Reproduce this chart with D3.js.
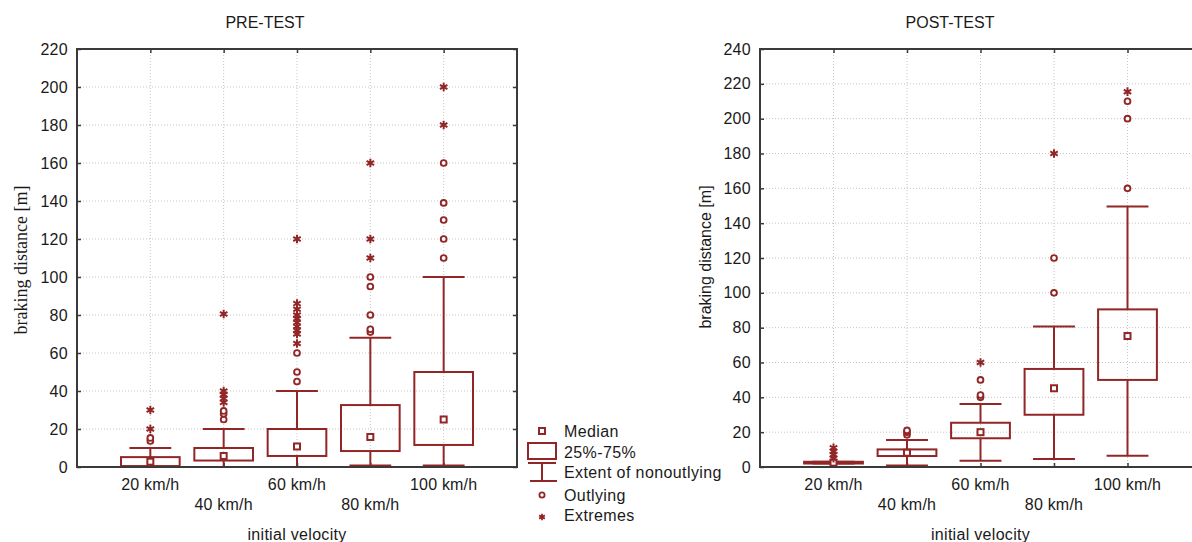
<!DOCTYPE html>
<html>
<head>
<meta charset="utf-8">
<script src="https://cdn.jsdelivr.net/npm/d3@7"></script>
<style>
  html, body { margin: 0; padding: 0; background: #fff; overflow: hidden; }
  svg { display: block; }
  text { font-family: "Liberation Sans", Arial, sans-serif; fill: #1a1a1a; }
</style>
</head>
<body>
<svg id="chart" width="1192" height="542"></svg>
<script>
// ---------- data ----------
const categories = ["20 km/h", "40 km/h", "60 km/h", "80 km/h", "100 km/h"];

// PRE-TEST
const preMedian = [2.8, 5.8, 10.8, 15.8, 25];
const preQ1 = [0.5, 3.4, 5.8, 8.4, 11.6];
const preQ3 = [5.2, 10, 20, 32.6, 50];
const preLow = [0, 0, 0, 0.8, 0.8];
const preHigh = [10, 20, 40, 68, 100];
const preOutlying = [[13.7, 15.3], [25, 28, 29.5], [45, 50, 60], [71, 72.5, 80, 95, 100], [110, 120, 130, 139, 160]];
const preExtremes = [[20, 30], [34, 36, 38, 40, 80.5], [65, 70, 72, 74, 76, 78, 80, 83, 86, 120], [110, 120, 160], [180, 200]];
const preTicks = [0, 20, 40, 60, 80, 100, 120, 140, 160, 180, 200, 220];

// POST-TEST
const postMedian = [2.5, 8.2, 20, 45.2, 75.2];
const postQ1 = [2, 6.3, 16.5, 30, 50];
const postQ3 = [3, 10.1, 25.4, 56.3, 90.5];
const postLow = [2, 0.8, 3.6, 4.6, 6.5];
const postHigh = [3, 15.5, 36.2, 80.6, 149.5];
const postOutlying = [[], [18.5, 20, 21], [40, 41.3, 50], [100, 120], [160, 200, 210]];
const postExtremes = [[5, 7, 9, 11], [], [60], [180], [215.5]];
const postTicks = [0, 20, 40, 60, 80, 100, 120, 140, 160, 180, 200, 220, 240];

const legendLabels = ["Median", "25%-75%", "Extent of nonoutlying", "Outlying", "Extremes"];

// ---------- style ----------
const RED = "#922626";
const FRAME = "#3a3a3a";
const GRID = "#c4c4c4";

const svg = d3.select("#chart");

function drawPanel(cfg) {
  const g = svg.append("g");
  const x = d3.scalePoint().domain(categories).range([cfg.left, cfg.right]).padding(1);
  const y = d3.scaleLinear().domain([0, cfg.max]).range([cfg.bottom, cfg.top]);
  const step = x.step();
  const boxW = step * 0.8;
  const capW = step * 0.57;

  // grid
  g.append("g").selectAll("line").data(cfg.ticks.filter(t => t > 0 && t < cfg.max)).join("line")
    .attr("x1", cfg.left).attr("x2", cfg.right)
    .attr("y1", d => y(d)).attr("y2", d => y(d))
    .attr("stroke", GRID).attr("stroke-width", 1).attr("stroke-dasharray", "1,2");
  g.append("g").selectAll("line").data(categories).join("line")
    .attr("x1", d => x(d)).attr("x2", d => x(d))
    .attr("y1", cfg.top).attr("y2", cfg.bottom)
    .attr("stroke", GRID).attr("stroke-width", 1).attr("stroke-dasharray", "1,2");

  // y axis (left) with inward ticks
  const yAxisL = d3.axisLeft(y).tickValues(cfg.ticks).tickSize(-4).tickPadding(9).tickFormat(d3.format("d"));
  const ga = g.append("g").attr("transform", `translate(${cfg.left},0)`).call(yAxisL);
  ga.select(".domain").remove();
  ga.selectAll(".tick line").attr("stroke", FRAME).attr("stroke-width", 1.5);
  ga.selectAll(".tick text").style("font-size", "16px").style("font-family", "Liberation Sans, Arial, sans-serif")
    .style("letter-spacing", "0.3px").attr("fill", "#1a1a1a");

  const yAxisR = d3.axisRight(y).tickValues(cfg.ticks).tickSize(-4).tickFormat("");
  const gr = g.append("g").attr("transform", `translate(${cfg.right},0)`).call(yAxisR);
  gr.select(".domain").remove();
  gr.selectAll(".tick line").attr("stroke", FRAME).attr("stroke-width", 1.5);

  // x axis ticks (bottom inward, top inward)
  const xAxisB = d3.axisBottom(x).tickSize(-4).tickFormat("");
  const gb = g.append("g").attr("transform", `translate(0,${cfg.bottom})`).call(xAxisB);
  gb.select(".domain").remove();
  gb.selectAll(".tick line").attr("stroke", FRAME).attr("stroke-width", 1.5);
  const xAxisT = d3.axisTop(x).tickSize(-4).tickFormat("");
  const gt = g.append("g").attr("transform", `translate(0,${cfg.top})`).call(xAxisT);
  gt.select(".domain").remove();
  gt.selectAll(".tick line").attr("stroke", FRAME).attr("stroke-width", 1.5);

  // category labels (staggered)
  g.append("g").selectAll("text").data(categories).join("text")
    .attr("x", d => x(d))
    .attr("y", (d, i) => i % 2 === 0 ? cfg.bottom + 23 : cfg.bottom + 43)
    .attr("text-anchor", "middle")
    .style("font-size", "16px")
    .style("letter-spacing", "0.2px")
    .text(d => d);

  // boxes
  const data = categories.map((c, i) => ({
    c, q1: cfg.q1[i], q3: cfg.q3[i], med: cfg.median[i], lo: cfg.low[i], hi: cfg.high[i],
    out: cfg.outlying[i], ext: cfg.extremes[i]
  }));
  const bg = g.append("g");
  data.forEach(d => {
    const cx = x(d.c);
    const b = bg.append("g");
    // whisker vertical lines
    b.append("line").attr("x1", cx).attr("x2", cx).attr("y1", y(d.q3)).attr("y2", y(d.hi))
      .attr("stroke", RED).attr("stroke-width", 2);
    b.append("line").attr("x1", cx).attr("x2", cx).attr("y1", y(d.q1)).attr("y2", y(d.lo))
      .attr("stroke", RED).attr("stroke-width", 2);
    // caps
    [d.hi, d.lo].forEach(v => {
      b.append("line").attr("x1", cx - capW / 2).attr("x2", cx + capW / 2)
        .attr("y1", y(v)).attr("y2", y(v)).attr("stroke", RED).attr("stroke-width", 2);
    });
    // box
    b.append("rect").attr("x", cx - boxW / 2).attr("width", boxW)
      .attr("y", y(d.q3)).attr("height", Math.max(0.5, y(d.q1) - y(d.q3)))
      .attr("fill", "none").attr("stroke", RED).attr("stroke-width", 2);
    // median
    b.append("rect").attr("x", cx - 3).attr("y", y(d.med) - 3).attr("width", 6).attr("height", 6)
      .attr("fill", "#fff").attr("stroke", RED).attr("stroke-width", 2);
    // outlying
    b.selectAll("circle").data(d.out).join("circle")
      .attr("cx", cx).attr("cy", v => y(v)).attr("r", 2.9)
      .attr("fill", "#fff").attr("stroke", RED).attr("stroke-width", 1.9);
    // extremes
    b.selectAll("path.ext").data(d.ext).join("path").attr("class", "ext")
      .attr("transform", v => `translate(${cx},${y(v)})`)
      .attr("d", d3.symbol(d3.symbolAsterisk, 52)())
      .attr("fill", "none").attr("stroke", RED).attr("stroke-width", 2);
  });

  // frame
  g.append("rect").attr("x", cfg.left).attr("y", cfg.top)
    .attr("width", cfg.right - cfg.left).attr("height", cfg.bottom - cfg.top)
    .attr("fill", "none").attr("stroke", FRAME).attr("stroke-width", 2);

  // titles
  g.append("text").attr("x", cfg.titleX).attr("y", 28).attr("text-anchor", "middle")
    .style("font-size", "16px").text(cfg.title);
  g.append("text").attr("x", (cfg.left + cfg.right) / 2).attr("y", 540).attr("text-anchor", "middle")
    .style("font-size", "16px").style("letter-spacing", "0.3px").text("initial velocity");
  g.append("text")
    .attr("transform", `translate(${cfg.ylabX},${cfg.ylabY}) rotate(-90)`)
    .attr("text-anchor", "middle")
    .style("font-size", cfg.ylabSize)
    .style("font-family", cfg.ylabFont)
    .text("braking distance [m]");
}

drawPanel({
  left: 77, right: 517, top: 49, bottom: 467, max: 220, ticks: preTicks,
  q1: preQ1, q3: preQ3, median: preMedian, low: preLow, high: preHigh,
  outlying: preOutlying, extremes: preExtremes,
  title: "PRE-TEST", titleX: 265,
  ylabX: 27, ylabY: 260, ylabSize: "18px", ylabFont: "Liberation Serif, Times New Roman, serif"
});

drawPanel({
  left: 760, right: 1201, top: 49, bottom: 467, max: 240, ticks: postTicks,
  q1: postQ1, q3: postQ3, median: postMedian, low: postLow, high: postHigh,
  outlying: postOutlying, extremes: postExtremes,
  title: "POST-TEST", titleX: 950,
  ylabX: 711, ylabY: 257, ylabSize: "16px", ylabFont: "Liberation Sans, Arial, sans-serif"
});

// ---------- legend ----------
const lg = svg.append("g");
const rowY = [431, 452, 472, 495, 515];
const mx = 542;
lg.append("rect").attr("x", mx - 3).attr("y", rowY[0] - 3).attr("width", 6).attr("height", 6)
  .attr("fill", "#fff").attr("stroke", RED).attr("stroke-width", 2);
lg.append("rect").attr("x", 528).attr("y", 443).attr("width", 28).attr("height", 16)
  .attr("fill", "none").attr("stroke", RED).attr("stroke-width", 2);
lg.append("line").attr("x1", 528).attr("x2", 556).attr("y1", 463).attr("y2", 463).attr("stroke", RED).attr("stroke-width", 2);
lg.append("line").attr("x1", mx).attr("x2", mx).attr("y1", 463).attr("y2", 481).attr("stroke", RED).attr("stroke-width", 2);
lg.append("line").attr("x1", 530).attr("x2", 557).attr("y1", 481).attr("y2", 481).attr("stroke", RED).attr("stroke-width", 2);
lg.append("circle").attr("cx", mx).attr("cy", rowY[3]).attr("r", 2.6)
  .attr("fill", "#fff").attr("stroke", RED).attr("stroke-width", 1.8);
lg.append("path").attr("transform", `translate(${mx},${rowY[4] + 2})`)
  .attr("d", d3.symbol(d3.symbolAsterisk, 30)())
  .attr("fill", "none").attr("stroke", RED).attr("stroke-width", 1.8);
lg.selectAll("text").data(legendLabels).join("text")
  .attr("x", 564).attr("y", (d, i) => rowY[i] + 6)
  .style("font-size", "16px")
  .style("letter-spacing", "0.4px")
  .text(d => d);
</script>
</body>
</html>
